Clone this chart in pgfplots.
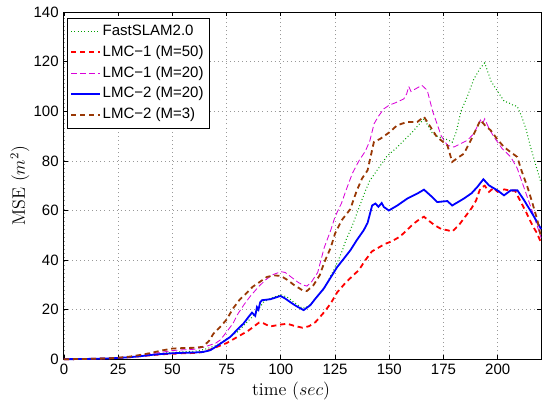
\documentclass[border=0pt]{standalone}
\usepackage{pgfplots}
\pgfplotsset{compat=1.18}
\usepackage{fontspec}
\newfontfamily\arial{Liberation Sans}
\definecolor{cgreen}{rgb}{0,0.62,0}
\definecolor{cmag}{rgb}{0.85,0,0.85}
\definecolor{cbrown}{rgb}{0.6,0.22,0.02}
\begin{document}
\begin{tikzpicture}
\begin{axis}[
  scale only axis,
  width=318pt, height=231.3pt,
  xmin=0, xmax=220, ymin=0, ymax=140,
  xtick={0,25,...,200}, ytick={0,20,...,140},
  /pgf/number format/assume math mode=true,
  ticklabel style={font=\arial\fontsize{10}{12}\selectfont},
  tick align=inside, tick pos=both,
  major tick length=2.5pt,
  axis line style={line width=0.6pt},
  every tick/.style={black, line width=0.5pt},
  grid=major,
  major grid style={gray!80, line width=0.45pt, dash pattern=on 0.5pt off 2.2pt},
  xlabel={time ($sec$)},
  ylabel={MSE ($m^2$)},
  label style={font=\fontsize{12}{14}\selectfont},
  xlabel style={at={(rel axis cs:0.476,-0.093)}, anchor=center},
  ylabel style={at={(rel axis cs:-0.092,0.5)}, anchor=center, rotate=0},
  clip=false,
  legend cell align=left,
  legend style={at={(0.006,0.983)}, anchor=north west,
    font=\arial\fontsize{10}{12}\selectfont,
    nodes={inner sep=1.5pt, text height=8pt, text depth=2.9pt},
    inner xsep=2pt, inner ysep=1.8pt},
  legend image code/.code={\draw[#1] (0pt,0pt) -- (19pt,0pt);},
]
\path (rel axis cs:-0.134,-0.121) rectangle (rel axis cs:1.004,1.035);

% FastSLAM2.0
\addplot[cgreen, line width=0.7pt, dash pattern=on 0.6pt off 1.6pt] coordinates {
(0,0) (10,0.1) (20,0.3) (25,0.5) (30,0.8) (35,1.3) (40,1.8) (45,2.3) (50,2.8) (55,3.0) (60,3.2) (65,4.0) (70,5.5) (75,8) (80,11) (85,15.5) (88,18) (90,20.5) (92,23) (95,24.5) (100,26) (103,25) (106,23) (110,20.5) (113,21.5) (116,24.5) (120,28.5) (125,37) (128,43) (130,48) (133,54) (136,61) (139,68) (141,72) (145,77) (149,82) (153,85) (157,88.5) (161,92) (164,95) (166,97) (168,94) (170,91) (172,90) (175,89) (177,88.5) (179,87.5) (181,92) (183,100) (186,106) (189,113) (192,117.5) (194,119.5) (195,117) (197,112) (200,108) (203,104) (205,103.5) (207,102.5) (209,102) (211,98) (213,93) (215,86) (217,80) (220,71)
};
\addlegendentry{FastSLAM2.0}

% LMC-1 (M=50)
\addplot[red, line width=1.2pt, dash pattern=on 3.5pt off 2.5pt] coordinates {
(0,0) (10,0.1) (20,0.3) (25,0.5) (30,0.8) (35,1.2) (40,1.6) (45,2.0) (50,2.2) (55,2.4) (60,2.5) (65,3) (70,4.8) (75,6.5) (80,9) (85,11.5) (88,13.5) (90,14.8) (92,14.5) (95,13.2) (100,14) (103,14.3) (106,13.5) (110,12.7) (113,13.3) (116,15) (120,19) (123,22.5) (126,27) (130,31) (133,33.5) (136,36) (139,40) (142,43.5) (145,45) (148,46.5) (151,47.5) (155,49.5) (158,52) (161,54.5) (164,56.5) (166,57.5) (168,56) (171,54) (174,52.5) (177,52) (179,51.5) (182,54) (185,57.5) (188,61) (190,64) (192,69) (194,70) (196,67.5) (198,69) (200,67.5) (203,68.5) (206,68) (208,68) (210,64.5) (213,59.5) (216,54) (218,51) (220,47)
};
\addlegendentry{LMC−1 (M=50)}

% LMC-1 (M=20)
\addplot[cmag, line width=0.55pt, dash pattern=on 4pt off 2pt] coordinates {
(0,0) (10,0.1) (20,0.3) (25,0.6) (30,1.0) (35,1.6) (40,2.2) (45,2.8) (50,3.5) (55,3.8) (60,4.0) (65,5.0) (70,6.5) (72,7.7) (75,11) (78,14.5) (80,18) (83,22) (86,25.5) (90,29.5) (93,32) (96,34) (100,35.3) (102,35) (105,33) (108,31) (110,30) (112,29.5) (114,31) (117,35) (120,45) (123,52) (125,57.5) (128,63) (130,68) (133,75) (136,80) (139,84) (141,88) (143,95) (145,98) (147.5,101) (150,102.5) (153,103.5) (156.7,105) (158,107) (159,110) (160,108) (162,109) (165,110.5) (167.5,108.5) (170,100) (172,95) (174,90) (176.8,86.3) (179.8,85.6) (183,87) (186,88.3) (189,91) (192,96.5) (193,95) (194,97) (196,93) (198.3,89.6) (202,85) (206,81.6) (209,77) (212,69.5) (215,62) (217,57) (220,49)
};
\addlegendentry{LMC−1 (M=20)}

% LMC-2 (M=20)
\addplot[blue, line width=1.2pt] coordinates {
(0,0) (10,0.1) (20,0.3) (25,0.5) (30,0.8) (35,1.2) (40,1.7) (45,2.1) (50,2.4) (55,2.6) (60,2.7) (64,2.9) (67.4,3.6) (70,5) (73,6.8) (76.7,9) (80,12) (82.8,14.4) (85.5,17.5) (86.7,18.8) (88.2,17.5) (89,21) (89.7,20) (90.5,23) (91.3,23.8) (95.2,24.2) (99.8,25.5) (102,24.5) (104.4,23) (107,21.5) (110.5,19.8) (113.6,21.8) (116,24.5) (119.8,28.5) (123,33) (126,37.2) (129,40.5) (132.1,44) (135,48) (138.2,52) (140,55) (142.1,62) (143.6,62.8) (145,61.5) (146.5,63) (147.5,61.4) (149.8,60) (153.7,62) (158.3,64.8) (162.9,66.8) (166,68.4) (169.8,65.4) (172.1,63.4) (176.8,63.8) (179,62) (184.4,64.8) (188,67) (190.6,69.5) (193.4,72.6) (196,70.1) (199.9,68.1) (202.9,66.1) (206,68.1) (209.1,68.1) (212.2,64.1) (216.8,57.4) (220,52.5)
};
\addlegendentry{LMC−2 (M=20)}

% LMC-2 (M=3)
\addplot[cbrown, line width=1.2pt, dash pattern=on 3.5pt off 2.5pt] coordinates {
(0,0) (10,0.1) (20,0.3) (25,0.6) (30,1.0) (35,1.7) (40,2.5) (45,3.5) (50,4.3) (55,4.5) (60,4.6) (64,5) (67,7.5) (69,10.4) (72,13) (75,16) (78,20.5) (81,24) (84,26.5) (87,29.2) (90,31) (93.6,33.2) (97,33.8) (100,33.6) (103,32) (106,30) (110,27.8) (112,27.5) (115,29.8) (118,34) (120,39) (123,45) (125,50.7) (128,56) (132,60.5) (135,68) (137.5,73) (140,76.2) (142.9,87.6) (146,89) (150,91.5) (153.7,94.4) (158.3,95.7) (162.9,95.7) (166,97.8) (169,93.7) (172,89.6) (176.8,86.3) (179,79.6) (182,81.5) (184.4,82.9) (188,89) (192,96.4) (194.5,94) (196.8,92.3) (200,88.5) (202.9,85.6) (206,83.5) (209,81.6) (211,76) (213.7,69.5) (216,63) (218.3,56) (220,49)
};
\addlegendentry{LMC−2 (M=3)}
\end{axis}
\end{tikzpicture}
\end{document}
